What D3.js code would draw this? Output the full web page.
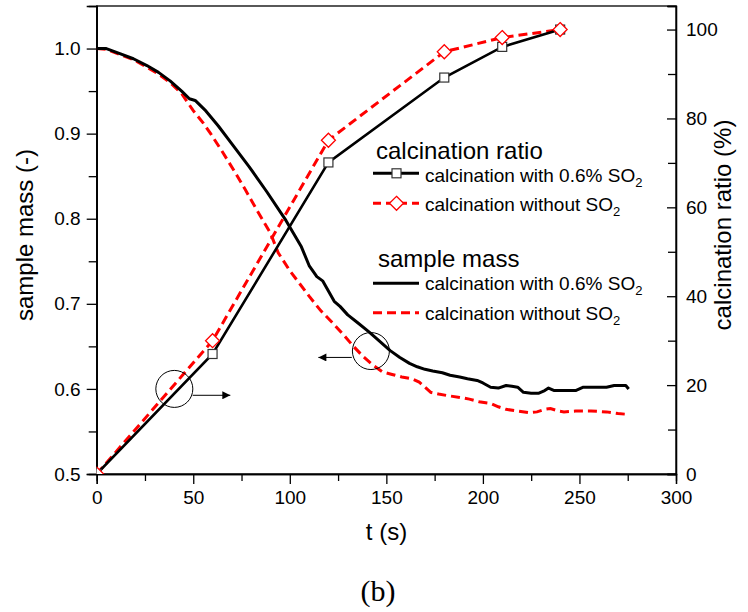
<!DOCTYPE html>
<html><head><meta charset="utf-8">
<script src="https://cdn.jsdelivr.net/npm/d3@7"></script>
<style>
body{margin:0;background:#fff;}
svg{display:block;}
text{font-family:Arial,"Liberation Sans",sans-serif;fill:#000;}
</style></head>
<body><svg id="c" width="748" height="612"></svg>
<script>
// ---- data ----
const ratioTime = [0, 60, 120, 180, 210, 240];
const ratioWithSO2 = [0, 27.0, 70.1, 89.2, 96.1, 100];
const ratioWithoutSO2 = [0, 30.0, 75.1, 95.0, 98.2, 100];

const massTimeWith = [0,5,12,19,26,32,38,44,48,51,56,63,70,79,88,98,106,110,114,117,120,123,126,130,135,141,146,152,157,162,166,170,174,179,183,188,192,197,200,204,208,212,215,218,221,225,229,232,234,237,242,248,252,258,264,268,272,274,275.5];
const massWith = [1.000,1.000,0.994,0.988,0.980,0.972,0.962,0.950,0.941,0.939,0.928,0.909,0.888,0.861,0.832,0.798,0.767,0.745,0.732,0.727,0.715,0.703,0.697,0.687,0.678,0.667,0.657,0.645,0.637,0.630,0.626,0.623,0.621,0.619,0.616,0.614,0.612,0.610,0.607,0.602,0.601,0.604,0.603,0.602,0.596,0.595,0.595,0.598,0.601,0.598,0.598,0.598,0.602,0.602,0.602,0.604,0.604,0.604,0.600];

const massTimeWithout = [0,5,12,19,26,32,38,44,50,55,59,65,71,77,83,90,94,100,105,110,116,122,128,133,138,143,148,153,158,163,167,170,173,177,182,188,193,198,204,208,212,218,224,228,232,235,239,242,248,256,264,270,275.5];
const massWithout = [1.000,0.999,0.993,0.987,0.978,0.970,0.960,0.947,0.927,0.913,0.900,0.879,0.857,0.834,0.810,0.783,0.760,0.739,0.724,0.709,0.692,0.678,0.663,0.650,0.638,0.628,0.620,0.617,0.614,0.612,0.608,0.602,0.596,0.594,0.592,0.590,0.588,0.585,0.583,0.579,0.576,0.574,0.572,0.573,0.576,0.577,0.574,0.573,0.574,0.574,0.573,0.571,0.570];

const xTicks = [0, 50, 100, 150, 200, 250, 300];
const yLeftTicks = [0.5, 0.6, 0.7, 0.8, 0.9, 1.0];
const yRightTicks = [0, 20, 40, 60, 80, 100];

// annotation circles: [t, mass]
const circleCenters = [[40.2, 0.600], [142, 0.6445]];
// arrows: [tFrom, tTo, mass]
const arrows = [[49.7, 69.2, 0.5925], [132.1, 114.8, 0.637]];

// ---- layout ----
const L = 96.7, R = 676, T = 6, B = 474;
const svg = d3.select("#c");
const x = d3.scaleLinear().domain([0, 300]).range([L, R]);
const yL = d3.scaleLinear().domain([0.5, 1.05]).range([B, T]);
const yR = d3.scaleLinear().domain([0, 105.3]).range([B, T]);

svg.append("defs").append("clipPath").attr("id","clip")
  .append("rect").attr("x",L).attr("y",T).attr("width",R-L).attr("height",B-T);
const defs = svg.select("defs");
defs.append("marker").attr("id","ah").attr("viewBox","0 0 10 10").attr("refX",10).attr("refY",5)
  .attr("markerWidth",12).attr("markerHeight",8).attr("markerUnits","userSpaceOnUse").attr("orient","auto")
  .append("path").attr("d","M0,0 L10,5 L0,10 z").attr("fill","#000");

// frame
svg.append("rect").attr("x",L).attr("y",T).attr("width",R-L).attr("height",B-T)
  .attr("fill","none").attr("stroke","#000").attr("stroke-width",1.3);

// axes
const fmtL = d3.format(".1f");
svg.append("g").attr("transform",`translate(0,${B})`)
  .call(d3.axisBottom(x).tickValues(xTicks).tickSize(10).tickPadding(7).tickFormat(d3.format("d")));
svg.append("g").attr("transform",`translate(0,${B})`)
  .call(d3.axisBottom(x).tickValues(d3.range(25,300,50)).tickSize(7).tickFormat(""));
svg.append("g").attr("transform",`translate(${L},0)`)
  .call(d3.axisLeft(yL).tickValues(yLeftTicks).tickSize(10).tickPadding(6).tickFormat(fmtL));
svg.append("g").attr("transform",`translate(${L},0)`)
  .call(d3.axisLeft(yL).tickValues([0.55,0.65,0.75,0.85,0.95]).tickSize(8).tickFormat(""));
svg.append("g").attr("transform",`translate(${R},0)`)
  .call(d3.axisRight(yR).tickValues(yRightTicks).tickSize(-9).tickPadding(10).tickFormat(d3.format("d")));
svg.append("g").attr("transform",`translate(${R},0)`)
  .call(d3.axisRight(yR).tickValues([10,30,50,70,90]).tickSize(-8).tickFormat(""));
svg.selectAll(".domain").attr("stroke","#000").attr("stroke-width",1.3);
svg.selectAll(".tick line").attr("stroke","#000").attr("stroke-width",1.3);
svg.selectAll(".tick text").style("font-size","19px").style("font-family","Arial, 'Liberation Sans', sans-serif").attr("fill","#000");

// axis titles
svg.append("text").attr("transform","translate(33,235) rotate(-90)").attr("text-anchor","middle")
  .style("font-size","24px").text("sample mass (-)");
svg.append("text").attr("transform","translate(731,225) rotate(-90)").attr("text-anchor","middle")
  .style("font-size","24px").text("calcination ratio (%)");
svg.append("text").attr("x",386.5).attr("y",540).attr("text-anchor","middle")
  .style("font-size","24px").text("t (s)");
svg.append("text").attr("x",378).attr("y",601).attr("text-anchor","middle")
  .style("font-size","30px").style("font-family","'Liberation Serif','Times New Roman',serif").text("(b)");

const plot = svg.append("g").attr("clip-path","url(#clip)");

// mass curves
const lineM = (tArr) => d3.line().x((d,i)=>x(tArr[i])).y(d=>yL(d)).curve(d3.curveLinear);
plot.append("path").datum(massWithout).attr("d",lineM(massTimeWithout))
  .attr("fill","none").attr("stroke","#ff0000").attr("stroke-width",3).attr("stroke-dasharray","9,5");
plot.append("path").datum(massWith).attr("d",lineM(massTimeWith))
  .attr("fill","none").attr("stroke","#000").attr("stroke-width",3).attr("stroke-linejoin","round");

// ratio curves
const lineR = d3.line().x((d,i)=>x(ratioTime[i])).y(d=>yR(d));
plot.append("path").datum(ratioWithoutSO2).attr("d",lineR)
  .attr("fill","none").attr("stroke","#ff0000").attr("stroke-width",3).attr("stroke-dasharray","9,5");
plot.append("path").datum(ratioWithSO2).attr("d",lineR)
  .attr("fill","none").attr("stroke","#000").attr("stroke-width",2.6);

// markers
plot.selectAll(".sq").data(ratioWithSO2).enter().append("rect")
  .attr("x",(d,i)=>x(ratioTime[i])-4.5).attr("y",d=>yR(d)-4.5).attr("width",9).attr("height",9)
  .attr("fill","#fff").attr("stroke","#333").attr("stroke-width",1.2);
const dia = (cx,cy,r)=>`M${cx},${cy-r}L${cx+r},${cy}L${cx},${cy+r}L${cx-r},${cy}Z`;
plot.selectAll(".dm").data(ratioWithoutSO2).enter().append("path")
  .attr("d",(d,i)=>dia(x(ratioTime[i]),yR(d),7))
  .attr("fill","#fff").attr("stroke","#ff0000").attr("stroke-width",1.3);

// annotations
svg.selectAll(".ann").data(circleCenters).enter().append("circle")
  .attr("cx",d=>x(d[0])).attr("cy",d=>yL(d[1])).attr("r",18.5)
  .attr("fill","none").attr("stroke","#000").attr("stroke-width",1);
svg.selectAll(".arr").data(arrows).enter().append("line")
  .attr("x1",d=>x(d[0])).attr("x2",d=>x(d[1])).attr("y1",d=>yL(d[2])).attr("y2",d=>yL(d[2]))
  .attr("stroke","#000").attr("stroke-width",1).attr("marker-end","url(#ah)");

// legends
function legend(title, tx, ty, items){
  const g = svg.append("g");
  g.append("text").attr("x",tx).attr("y",ty).style("font-size","24px").text(title);
  items.forEach(it=>{
    g.append("line").attr("x1",373).attr("x2",419).attr("y1",it.ly).attr("y2",it.ly)
      .attr("stroke",it.color).attr("stroke-width",3).attr("stroke-dasharray",it.dash||null);
    if(it.marker==="sq") g.append("rect").attr("x",396.5-4.5).attr("y",it.ly-4.5).attr("width",9).attr("height",9)
      .attr("fill","#fff").attr("stroke","#333").attr("stroke-width",1.2);
    if(it.marker==="dm") g.append("path").attr("d",dia(396.5,it.ly,7)).attr("fill","#fff").attr("stroke","#ff0000").attr("stroke-width",1.3);
    const t = g.append("text").attr("x",425).attr("y",it.ty).style("font-size","19px");
    t.append("tspan").text(it.label);
    t.append("tspan").attr("dy",5).style("font-size","13px").text("2");
  });
}
legend("calcination ratio", 376, 159, [
  {ly:173.3, ty:181.5, color:"#000", marker:"sq", label:"calcination with 0.6% SO"},
  {ly:203.3, ty:210.5, color:"#ff0000", dash:"8,5", marker:"dm", label:"calcination without SO"}
]);
legend("sample mass", 378, 266.5, [
  {ly:283.3, ty:289.5, color:"#000", label:"calcination with 0.6% SO"},
  {ly:312.7, ty:320, color:"#ff0000", dash:"9,5", label:"calcination without SO"}
]);
</script></body></html>
